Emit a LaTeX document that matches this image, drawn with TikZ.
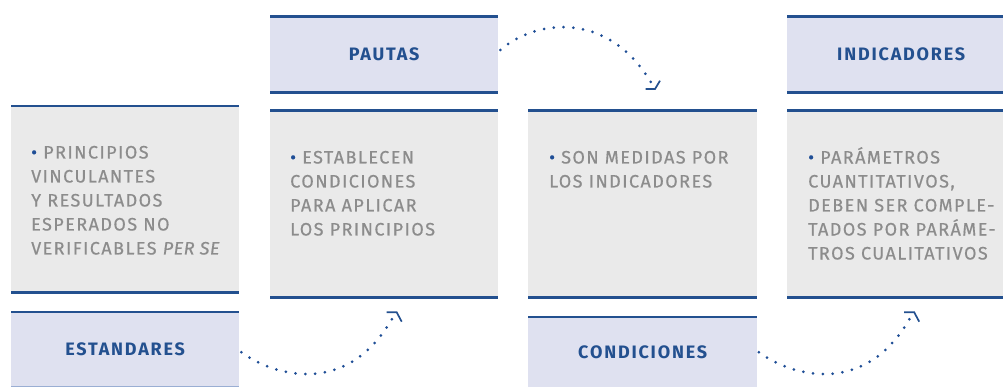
\documentclass[tikz,border=0pt]{standalone}
\usepackage{fontspec}
\setmainfont{Fira Sans}
\newfontfamily\bodyf[LetterSpace=8,FakeBold=0.5]{Fira Sans}
\newfontfamily\itf[LetterSpace=3,FakeBold=0.5]{Fira Sans Italic}
\newfontfamily\labf[LetterSpace=10]{Fira Sans}
\definecolor{lineblue}{HTML}{23508F}
\definecolor{labfill}{HTML}{DFE1F0}
\definecolor{boxfill}{HTML}{EAEAEA}
\definecolor{txtgray}{HTML}{8C8C8C}
\definecolor{dotblue}{HTML}{1F4E96}
\definecolor{lightline}{HTML}{9AAED3}
\newcommand{\bul}{{\color{dotblue}•} }
\tikzset{
  labbox/.style={fill=labfill, draw=none, inner sep=0, anchor=north west,
    font=\labf\bfseries\fontsize{18}{20}\selectfont, text=lineblue},
  contbox/.style={fill=boxfill, draw=none, inner sep=0, anchor=north west},
  bline/.style={draw=lineblue, line width=2.5pt},
  ctext/.style={inner sep=0, anchor=base west, align=left, text=txtgray,
    font=\bodyf\fontsize{18}{24}\selectfont},
  dotarc/.style={draw=dotblue, line width=3pt, line cap=round, dash pattern=on 0pt off 9.8pt},
  tiphead/.style={draw=lineblue, line width=1.7pt, line join=miter}
}
\begin{document}
\begin{tikzpicture}[x=1pt,y=-1pt]
\useasboundingbox (0,0) rectangle (1003,387);
% column 1
\node[contbox, minimum width=228pt, minimum height=186pt] (c1) at (11,106) {};
\node[labbox, minimum width=228pt, minimum height=74pt] (l1) at (11,312) {ESTANDARES};
% column 2
\node[labbox, minimum width=228pt, minimum height=75.5pt] (l2) at (270,16.5) {PAUTAS};
\node[contbox, minimum width=228pt, minimum height=186.5pt] (c2) at (270,110.5) {};
% column 3
\node[contbox, minimum width=229pt, minimum height=186.5pt] (c3) at (528,110.5) {};
\node[labbox, minimum width=229pt, minimum height=71pt] (l3) at (528,317) {CONDICIONES};
% column 4 (runs past the right edge of the page)
\node[labbox, minimum width=228pt, minimum height=75.5pt] (l4) at (787,16.5) {INDICADORES};
\node[contbox, minimum width=228pt, minimum height=186.5pt] (c4) at (787,110.5) {};
% border lines
\foreach \n in {c1,c2,c3,c4,l2,l4}{
  \draw[bline] (\n.north west) -- (\n.north east);
  \draw[bline] (\n.south west) -- (\n.south east);
}
\draw[bline] (l1.north west) -- (l1.north east);
\draw[bline] (l3.north west) -- (l3.north east);
\draw[draw=lightline, line width=1pt] (l1.south west) -- (l1.south east);
% texts (anchor = baseline of last line)
\node[ctext] (t1) at (31,254.5) {\bul PRINCIPIOS\\VINCULANTES\\Y RESULTADOS\\ESPERADOS NO\\VERIFICABLES {\itf PER SE}};
\node[ctext] (t2) at (290,235.5) {\bul ESTABLECEN\\CONDICIONES\\PARA APLICAR\\LOS PRINCIPIOS};
\node[ctext] (t3) at (549,187.5) {\bul SON MEDIDAS POR\\LOS INDICADORES};
\node[ctext] (t4) at (808,259.5) {\bul PARÁMETROS\\CUANTITATIVOS,\\DEBEN SER COMPLE-\\TADOS POR PARÁME-\\TROS CUALITATIVOS};
% connectors
\coordinate (e1) at (392,319);
\coordinate (h1) at (396.7,312.3);
\draw[dotarc] ([xshift=2pt,yshift=-3pt]l1.east) .. controls (270.2,373.9) and (345.4,399.7) .. (e1);
\draw[tiphead] ([xshift=-10pt]h1) -- (h1) -- ++(5,9.4);
\coordinate (e2) at (651,82.3);
\coordinate (h2) at (655,89);
\draw[dotarc] ([xshift=2pt,yshift=4.5pt]l2.east) .. controls (534.7,20) and (606.9,9.3) .. (e2);
\draw[tiphead] ([xshift=-9.3pt]h2) -- (h2) -- ++(5,-8.3);
\coordinate (e3) at (909.5,319);
\coordinate (h3) at (914.2,312.3);
\draw[dotarc] ([xshift=1.5pt,yshift=0.5pt]l3.east) .. controls (787.7,373.9) and (862.9,399.7) .. (e3);
\draw[tiphead] ([xshift=-10pt]h3) -- (h3) -- ++(5,9.4);
\end{tikzpicture}
\end{document}
